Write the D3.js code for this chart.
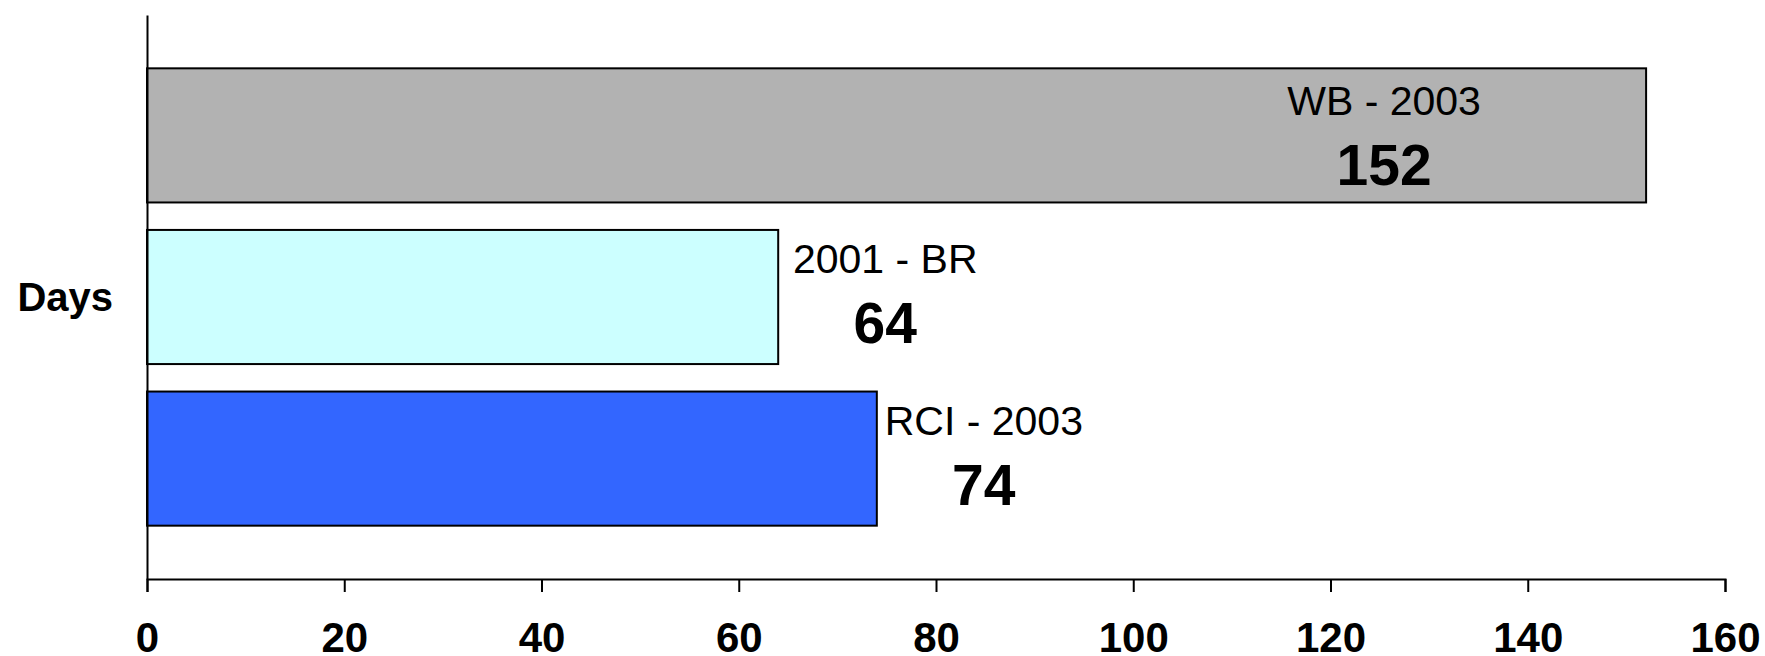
<!DOCTYPE html>
<html>
<head>
<meta charset="utf-8">
<script src="https://cdn.jsdelivr.net/npm/d3@7"></script>
<style>
  body { margin: 0; background: #fff; }
  svg { display: block; font-family: "Liberation Sans", Arial, sans-serif; }
</style>
</head>
<body>
<div id="chart"></div>
<script>
// data
var categories = ['WB - 2003', '2001 - BR', 'RCI - 2003'];
var values = [152, 64, 74];
var colors = ['#b2b2b2', '#ccffff', '#3366ff'];
var xTicks = [0, 20, 40, 60, 80, 100, 120, 140, 160];
var axisTitle = 'Days';

var width = 1765;
var height = 656;
var margin = { top: 15, right: 40, bottom: 77, left: 147 };

var svg = d3
  .select('#chart')
  .append('svg')
  .attr('width', width)
  .attr('height', height);

var x = d3
  .scaleLinear()
  .domain([0, 160])
  .range([margin.left, 1725]);

var y = d3
  .scaleBand()
  .domain(categories)
  .range([margin.top, height - margin.bottom])
  .paddingInner(0.17)
  .paddingOuter(0.33);

var rows = categories.map((c, i) => ({ name: c, value: values[i], color: colors[i] }));

// bars
svg
  .append('g')
  .selectAll('rect')
  .data(rows)
  .enter()
  .append('rect')
  .attr('x', x(0))
  .attr('y', d => y(d.name))
  .attr('width', d => x(d.value) - x(0))
  .attr('height', y.bandwidth())
  .attr('fill', d => d.color)
  .attr('stroke', '#000')
  .attr('stroke-width', 2);

// x axis
var xAxis = svg
  .append('g')
  .attr('transform', `translate(0, ${height - margin.bottom})`)
  .call(
    d3
      .axisBottom(x)
      .tickValues(xTicks)
      .tickSize(13)
      .tickSizeOuter(13)
      .tickPadding(30)
  );
xAxis.selectAll('path, line').attr('stroke', '#000').attr('stroke-width', 2);
xAxis
  .selectAll('text')
  .attr('fill', '#000')
  .style('font-family', '"Liberation Sans", Arial, sans-serif')
  .style('font-size', '42px')
  .style('font-weight', 'bold');

// y axis (line only)
var yAxis = svg
  .append('g')
  .attr('transform', `translate(${x(0)}, 0)`)
  .call(d3.axisLeft(y).tickSize(0).tickFormat(''));
yAxis.select('path').attr('stroke', '#000').attr('stroke-width', 2);

svg
  .append('text')
  .attr('x', 113)
  .attr('y', (margin.top + height - margin.bottom) / 2 + 14)
  .attr('text-anchor', 'end')
  .style('font-size', '40px')
  .style('font-weight', 'bold')
  .text(axisTitle);

// data labels: inside the long bar, right of the short ones
function inside(d) {
  return d.value > 100;
}
function labelX(d) {
  return inside(d) ? x(d.value) - 262 : x(d.value) + 107;
}
function labelY(d) {
  return y(d.name) + y.bandwidth() / 2 + (inside(d) ? 4 : 0);
}

var labels = svg.append('g').selectAll('g').data(rows).enter().append('g');
labels
  .append('text')
  .attr('x', labelX)
  .attr('y', d => labelY(d) - 24)
  .attr('text-anchor', 'middle')
  .style('font-size', '41px')
  .text(d => d.name);
labels
  .append('text')
  .attr('x', labelX)
  .attr('y', d => labelY(d) + 46)
  .attr('text-anchor', 'middle')
  .style('font-size', '57px')
  .style('font-weight', 'bold')
  .text(d => d.value);
</script>
</body>
</html>
